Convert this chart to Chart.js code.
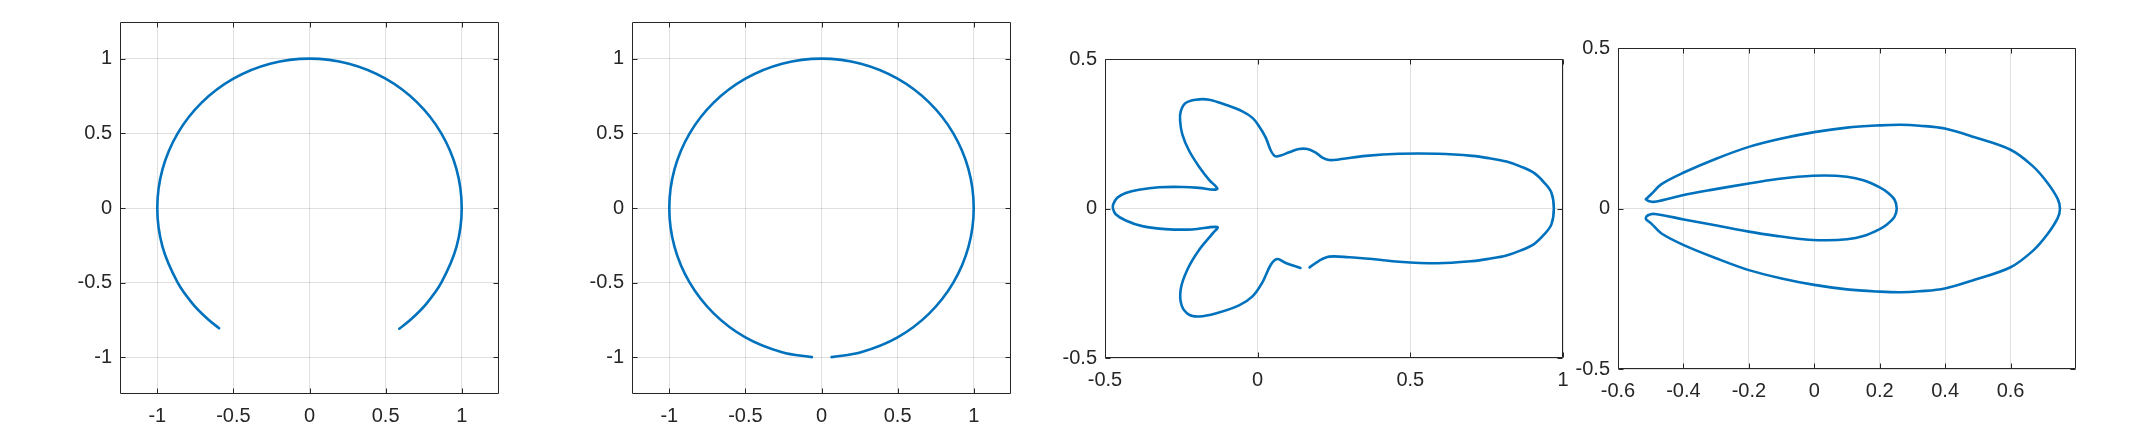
<!DOCTYPE html>
<html>
<head>
<meta charset="utf-8">
<script src="https://cdn.jsdelivr.net/npm/chart.js@4.4.1/dist/chart.umd.min.js"></script>
<style>
  html, body { margin: 0; padding: 0; background: #fff; overflow: hidden; }
  body { width: 2156px; height: 433px; position: relative; }
  .panel { position: absolute; }
</style>
</head>
<body>
<div class="panel" id="p1"><canvas></canvas></div>
<div class="panel" id="p2"><canvas></canvas></div>
<div class="panel" id="p3"><canvas></canvas></div>
<div class="panel" id="p4"><canvas></canvas></div>
<script>
// panel 1 - arc open at the bottom
const arcX = [0.59, 0.669, 0.766, 0.866, 0.966, 1.0, 0.966, 0.866, 0.707, 0.5, 0.259, 0.0, -0.259, -0.5, -0.707, -0.866, -0.966, -1.0, -0.966, -0.866, -0.766, -0.669, -0.594];
const arcY = [-0.808, -0.743, -0.643, -0.5, -0.259, 0.0, 0.259, 0.5, 0.707, 0.866, 0.966, 1.0, 0.966, 0.866, 0.707, 0.5, 0.259, 0.0, -0.259, -0.5, -0.643, -0.743, -0.805];

// panel 2 - almost closed circle, small gap at the bottom
const ringX = [0.066, 0.259, 0.5, 0.707, 0.866, 0.966, 1.0, 0.966, 0.866, 0.707, 0.5, 0.259, 0.0, -0.259, -0.5, -0.707, -0.866, -0.966, -1.0, -0.966, -0.866, -0.707, -0.5, -0.259, -0.063];
const ringY = [-0.998, -0.966, -0.866, -0.707, -0.5, -0.259, 0.0, 0.259, 0.5, 0.707, 0.866, 0.966, 1.0, 0.966, 0.866, 0.707, 0.5, 0.259, 0.0, -0.259, -0.5, -0.707, -0.866, -0.966, -0.998];

// panel 3 - lobed pattern, starts right of the gap on the lower side
const lobeX = [0.170, 0.201, 0.234, 0.299, 0.376, 0.463, 0.590, 0.703, 0.759, 0.815, 0.860, 0.905, 0.939, 0.962, 0.970,
  0.962, 0.939, 0.905, 0.860, 0.815, 0.759, 0.703, 0.590, 0.463, 0.354, 0.266, 0.234, 0.212, 0.190, 0.163, 0.135, 0.103, 0.075, 0.057,
  0.043, 0.026, 0.004, -0.017, -0.050, -0.105, -0.159, -0.203, -0.236, -0.252, -0.254, -0.247, -0.225, -0.192, -0.159, -0.132,
  -0.143, -0.192, -0.247, -0.323, -0.389, -0.432, -0.460, -0.473, -0.474,
  -0.465, -0.432, -0.378, -0.301, -0.214, -0.132, -0.148, -0.192, -0.230, -0.252, -0.249, -0.225, -0.192, -0.138, -0.061, -0.017,
  0.015, 0.043, 0.064, 0.092, 0.140];
const lobeY = [-0.197, -0.175, -0.161, -0.163, -0.169, -0.178, -0.183, -0.176, -0.168, -0.157, -0.141, -0.119, -0.086, -0.053, 0.0,
  0.053, 0.086, 0.119, 0.141, 0.157, 0.168, 0.176, 0.183, 0.183, 0.176, 0.164, 0.162, 0.170, 0.187, 0.199, 0.199, 0.188, 0.177, 0.175,
  0.194, 0.238, 0.276, 0.303, 0.325, 0.347, 0.364, 0.364, 0.353, 0.325, 0.293, 0.249, 0.194, 0.140, 0.096, 0.067,
  0.063, 0.069, 0.072, 0.071, 0.063, 0.052, 0.036, 0.014, 0.0,
  -0.019, -0.040, -0.059, -0.069, -0.070, -0.062, -0.084, -0.139, -0.204, -0.270, -0.324, -0.355, -0.361, -0.351, -0.324, -0.294,
  -0.248, -0.188, -0.169, -0.182, -0.199];

// panel 4 - outer and inner loop joined at two cusps on the left
const loopX = [-0.515, -0.498, -0.467, -0.399, -0.300, -0.200, -0.100, 0.000, 0.100, 0.200, 0.264, 0.322, 0.399, 0.490, 0.600, 0.668, 0.712, 0.744, 0.751,
  0.744, 0.712, 0.668, 0.600, 0.490, 0.399, 0.322, 0.264, 0.200, 0.100, 0.000, -0.100, -0.200, -0.300, -0.399, -0.467, -0.498, -0.515,
  -0.508, -0.488,
  -0.399, -0.315, -0.200, -0.112, -0.050, 0.030, 0.100, 0.150, 0.200, 0.224, 0.245, 0.252,
  0.245, 0.224, 0.200, 0.150, 0.100, 0.030, -0.050, -0.112, -0.200, -0.315, -0.399, -0.488, -0.508, -0.515];
const loopY = [0.029, 0.045, 0.076, 0.112, 0.155, 0.192, 0.218, 0.238, 0.252, 0.259, 0.261, 0.258, 0.249, 0.222, 0.183, 0.132, 0.081, 0.030, 0.0,
  -0.030, -0.081, -0.132, -0.183, -0.222, -0.249, -0.258, -0.261, -0.259, -0.252, -0.238, -0.218, -0.192, -0.155, -0.114, -0.078, -0.047, -0.032,
  -0.021, -0.017,
  -0.034, -0.050, -0.072, -0.086, -0.094, -0.099, -0.096, -0.086, -0.064, -0.048, -0.026, 0.0,
  0.028, 0.050, 0.066, 0.088, 0.099, 0.103, 0.099, 0.092, 0.078, 0.058, 0.042, 0.021, 0.024, 0.029];

// tick labels
const circleTicks = [-1, -0.5, 0, 0.5, 1];
const lobeTicksX = [-0.5, 0, 0.5, 1];
const loopTicksX = [-0.6, -0.4, -0.2, 0, 0.2, 0.4, 0.6];
const halfTicks = [-0.5, 0, 0.5];

const INK = '#262626';
const LINE = '#0072BD';
const FONT = { family: '"Liberation Sans", Arial, sans-serif', size: 20 };
const PAD = { left: 70, top: 14, right: 30, bottom: 52 };

// box around the plot area + short inward tick marks on all four sides
const boxPlugin = {
  id: 'box',
  afterDraw(chart) {
    const { ctx, chartArea: a, scales: { x, y } } = chart;
    const t = 5;
    const L = Math.round(a.left) + 0.5, R = Math.round(a.right) - 0.5;
    const T = Math.round(a.top) + 0.5, B = Math.round(a.bottom) - 0.5;
    ctx.save();
    ctx.strokeStyle = INK;
    ctx.lineWidth = 1;
    ctx.beginPath();
    x.ticks.forEach(k => {
      const px = Math.round(x.getPixelForValue(k.value)) + 0.5;
      ctx.moveTo(px, B); ctx.lineTo(px, B - t);
      ctx.moveTo(px, T); ctx.lineTo(px, T + t);
    });
    y.ticks.forEach(k => {
      const py = Math.round(y.getPixelForValue(k.value)) + 0.5;
      ctx.moveTo(L, py); ctx.lineTo(L + t, py);
      ctx.moveTo(R, py); ctx.lineTo(R - t, py);
    });
    ctx.rect(L, T, R - L, B - T);
    ctx.stroke();
    ctx.restore();
  }
};

function axis(lim, ticks, pad, fit) {
  return {
    type: 'linear',
    min: lim[0],
    max: lim[1],
    afterBuildTicks: s => { s.ticks = ticks.map(v => ({ value: v })); },
    afterFit: fit,
    grid: { color: 'rgba(38,38,38,0.15)', lineWidth: 1, drawTicks: false },
    border: { display: false },
    ticks: { color: INK, font: FONT, padding: pad, autoSkip: false, maxRotation: 0, callback: v => String(v) }
  };
}

function drawPanel(id, box, xs, ys, xLim, yLim, xTicks, yTicks) {
  const wrap = document.getElementById(id);
  const w = box.w + PAD.left + PAD.right;
  const h = box.h + PAD.top + PAD.bottom;
  wrap.style.left = (box.left - PAD.left) + 'px';
  wrap.style.top = (box.top - PAD.top) + 'px';
  const canvas = wrap.querySelector('canvas');
  canvas.width = w;
  canvas.height = h;
  canvas.style.width = w + 'px';
  canvas.style.height = h + 'px';

  new Chart(canvas, {
    type: 'line',
    data: {
      datasets: [{
        data: xs.map((x, i) => ({ x, y: ys[i] })),
        borderColor: LINE,
        borderWidth: 2.6,
        borderCapStyle: 'round',
        borderJoinStyle: 'round',
        pointRadius: 0,
        tension: 0.35,
        fill: false,
      }],
    },
    options: {
      responsive: false,
      animation: false,
      devicePixelRatio: 1,
      layout: { padding: { top: PAD.top, right: PAD.right, left: 0, bottom: 0 } },
      plugins: { legend: { display: false }, tooltip: { enabled: false } },
      scales: {
        x: { ...axis(xLim, xTicks, 10, s => { s.height = PAD.bottom; }), position: 'bottom' },
        y: { ...axis(yLim, yTicks, 8, s => { s.width = PAD.left; }), position: 'left' },
      },
    },
    plugins: [boxPlugin],
  });
}

drawPanel('p1', { left: 120, top: 16, w: 379, h: 378 }, arcX, arcY, [-1.245, 1.245], [-1.245, 1.245], circleTicks, circleTicks);
drawPanel('p2', { left: 632, top: 16, w: 379, h: 378 }, ringX, ringY, [-1.245, 1.245], [-1.245, 1.245], circleTicks, circleTicks);
drawPanel('p3', { left: 1105, top: 53, w: 458, h: 305 }, lobeX, lobeY, [-0.5, 1], [-0.5, 0.5], lobeTicksX, halfTicks);
drawPanel('p4', { left: 1618, top: 42, w: 458, h: 327 }, loopX, loopY, [-0.6, 0.8], [-0.5, 0.5], loopTicksX, halfTicks);
</script>
</body>
</html>
